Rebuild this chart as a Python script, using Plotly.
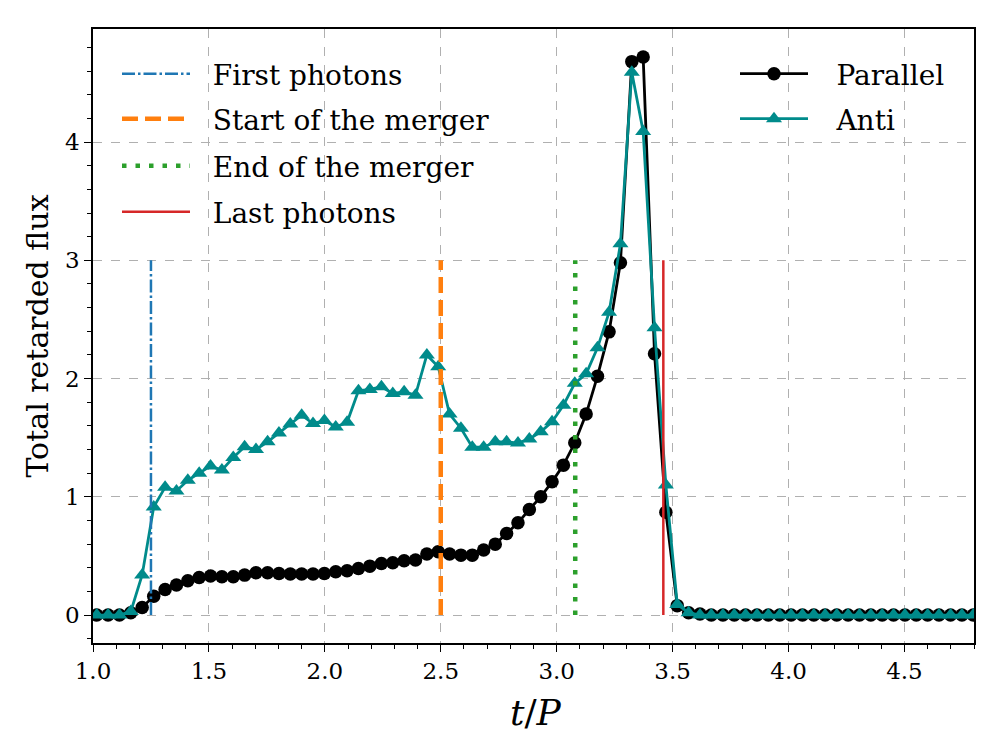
import plotly.graph_objects as go

# sample times t/P
t = [1.016, 1.065, 1.114, 1.163, 1.212, 1.262, 1.311, 1.360, 1.409, 1.458,
     1.507, 1.556, 1.605, 1.654, 1.703, 1.753, 1.802, 1.851, 1.900, 1.949,
     1.998, 2.047, 2.096, 2.145, 2.194, 2.244, 2.293, 2.342, 2.391, 2.440,
     2.489, 2.538, 2.587, 2.636, 2.685, 2.735, 2.784, 2.833, 2.882, 2.931,
     2.980, 3.029, 3.078, 3.127, 3.176, 3.226, 3.275, 3.324, 3.373, 3.422,
     3.471, 3.520, 3.569, 3.618, 3.667, 3.717, 3.766, 3.815, 3.864, 3.913,
     3.962, 4.011, 4.060, 4.109, 4.158, 4.208, 4.257, 4.306, 4.355, 4.404,
     4.453, 4.502, 4.551, 4.600, 4.649, 4.699, 4.748, 4.797]

parallel = [0.0, 0.0, 0.0, 0.02, 0.065, 0.16, 0.217, 0.254, 0.29, 0.318,
            0.33, 0.324, 0.324, 0.338, 0.358, 0.358, 0.352, 0.347, 0.347, 0.347,
            0.352, 0.366, 0.375, 0.394, 0.414, 0.437, 0.442, 0.459, 0.465, 0.516,
            0.535, 0.516, 0.507, 0.507, 0.55, 0.60, 0.69, 0.78, 0.893, 1.0,
            1.127, 1.268, 1.457, 1.70, 2.02, 2.395, 2.98, 4.68, 4.72, 2.21,
            0.87, 0.08, 0.02, 0.01, 0.0, 0.0, 0.0, 0.0, 0.0, 0.0,
            0.0, 0.0, 0.0, 0.0, 0.0, 0.0, 0.0, 0.0, 0.0, 0.0,
            0.0, 0.0, 0.0, 0.0, 0.0, 0.0, 0.0, 0.0]

anti = [0.0, 0.0, 0.0, 0.03, 0.34, 0.915, 1.08, 1.05, 1.14, 1.20,
        1.26, 1.226, 1.333, 1.423, 1.40, 1.465, 1.54, 1.615, 1.69, 1.62,
        1.645, 1.59, 1.63, 1.896, 1.908, 1.93, 1.874, 1.888, 1.86, 2.2,
        2.1, 1.70, 1.58, 1.42, 1.42, 1.465, 1.465, 1.455, 1.49, 1.55,
        1.634, 1.775, 1.96, 2.04, 2.26, 2.56, 3.14, 4.59, 4.09, 2.43,
        1.10, 0.09, 0.02, 0.0, 0.0, 0.0, 0.0, 0.0, 0.0, 0.0,
        0.0, 0.0, 0.0, 0.0, 0.0, 0.0, 0.0, 0.0, 0.0, 0.0,
        0.0, 0.0, 0.0, 0.0, 0.0, 0.0, 0.0, 0.0]

event_names = ["First photons", "Start of the merger", "End of the merger", "Last photons"]
event_t = [1.25, 2.5, 3.08, 3.46]
event_bottom = 0.0
event_top = 3.0
event_colors = ["#1f77b4", "#ff7f0e", "#2ca02c", "#d62728"]
event_dash = ["13px,3px,2.5px,3px", "16px,7px", "4.5px,9px", "solid"]
event_width = [2.5, 4.5, 4.5, 2.5]

FONT = "DejaVu Serif"
GAP = "\u00a0\u00a0"  # space between legend sample and label

fig = go.Figure()

fig.add_trace(go.Scatter(
    x=t, y=parallel, name=GAP + "\u2009" + "Parallel", mode="lines+markers",
    line=dict(color="black", width=2.8),
    marker=dict(symbol="circle", size=13.5, color="black"),
    legend="legend5"))
fig.add_trace(go.Scatter(
    x=t, y=anti, name=GAP + "\u2009" + "Anti", mode="lines+markers",
    line=dict(color="#008b8b", width=2.8),
    marker=dict(symbol="triangle-up", size=14, color="#008b8b"),
    legend="legend6"))

legend_ids = ["legend", "legend2", "legend3", "legend4"]
for name, xv, col, dsh, w, lg in zip(event_names, event_t, event_colors, event_dash, event_width, legend_ids):
    fig.add_trace(go.Scatter(
        x=[xv, xv], y=[event_bottom, event_top], name=GAP + name, mode="lines",
        line=dict(color=col, width=w, dash=dsh), legend=lg))

plot_left, plot_right = 93, 974
plot_top, plot_bot = 29, 643
def py(p):
    return (plot_bot - p) / (plot_bot - plot_top)
def px(p):
    return (p - plot_left) / (plot_right - plot_left)

leg_common = dict(bgcolor="rgba(0,0,0,0)", font=dict(family=FONT, size=28, color="black"),
                  xanchor="left", yanchor="middle", itemwidth=68, borderwidth=0)
layout_legends = {}
for lg, yy in zip(legend_ids, [74, 119, 166, 212]):
    layout_legends[lg] = dict(x=px(117), y=py(yy), **leg_common)
layout_legends["legend5"] = dict(x=px(735), y=py(74), **leg_common)
layout_legends["legend6"] = dict(x=px(735), y=py(119), **leg_common)

fig.update_layout(
    width=1004, height=752,
    margin=dict(l=plot_left, r=1004 - plot_right, t=plot_top, b=752 - plot_bot),
    paper_bgcolor="white", plot_bgcolor="white",
    font=dict(family=FONT, color="black"),
    showlegend=True,
    annotations=[dict(text="<i>t</i>/<i>P</i>", xref="paper", yref="paper",
                      x=px(536), y=py(712), xanchor="center", yanchor="middle",
                      showarrow=False, font=dict(family=FONT, size=36, color="black"))],
    **layout_legends,
)

fig.update_xaxes(
    range=[1.0, 4.8], tick0=1.0, dtick=0.5, tickformat=".1f",
    ticks="outside", ticklen=7, tickwidth=1.3, tickcolor="black",
    minor=dict(dtick=0.1, ticks="outside", ticklen=4, tickwidth=1, tickcolor="black", showgrid=False),
    showline=True, linecolor="black", linewidth=1.5, mirror=True,
    showgrid=True, gridcolor="#b0b0b0", griddash="dash", gridwidth=1.2,
    zeroline=False,
    tickfont=dict(family=FONT, size=23, color="black"),
)
fig.update_yaxes(
    range=[-0.236, 4.956], tick0=0, dtick=1,
    ticks="outside", ticklen=7, tickwidth=1.3, tickcolor="black",
    minor=dict(dtick=0.2, ticks="outside", ticklen=4, tickwidth=1, tickcolor="black", showgrid=False),
    showline=True, linecolor="black", linewidth=1.5, mirror=True,
    showgrid=True, gridcolor="#b0b0b0", griddash="dash", gridwidth=1.2,
    zeroline=False,
    tickfont=dict(family=FONT, size=23, color="black"),
    title=dict(text="Total retarded flux", font=dict(family=FONT, size=30, color="black"), standoff=8),
)

fig.write_html("out.html")
